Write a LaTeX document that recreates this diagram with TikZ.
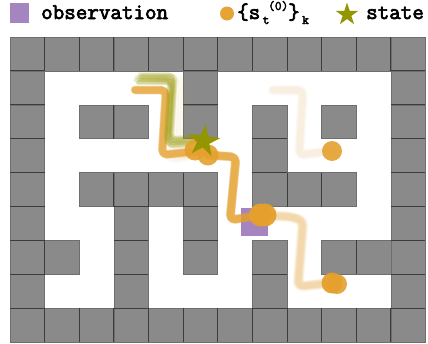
\documentclass[tikz,border=0pt]{standalone}
\usepackage{fontspec}
\newfontfamily\lgfont[FakeBold=3]{Latin Modern Mono}
\definecolor{wallc}{HTML}{8A8A8A}
\definecolor{wallb}{HTML}{3C3C3C}
\definecolor{purp}{HTML}{A585BF}
\definecolor{oran}{HTML}{E5A02D}
\definecolor{oliv}{HTML}{939600}
\tikzset{
  wall/.style={fill=wallc,draw=wallc!80!black,line width=.6pt},
  ptrail/.style={line width=#1,line cap=round,line join=round,rounded corners=5pt},
  legend/.style={font=\lgfont\fontsize{22.4}{23}\selectfont,inner sep=0pt,anchor=base west},
  small/.style={font=\lgfont\fontsize{13}{14}\selectfont,inner sep=0pt,anchor=base west}
}
\newcommand{\blurpath}[5]{% colour, opacity, width, offsets, path
  \foreach \dx/\dy in {#4}{
    \draw[ptrail=#3,draw=#1,opacity=#2,shift={(\dx pt,\dy pt)}] #5;
  }
}
\newcommand{\starat}[4]{% x,y,r,rot
  \fill[oliv] ({#1+#3*sin(#4)},{#2-#3*cos(#4)})
  \foreach \k in {1,...,9}{
    -- ({#1+(#3*(1-0.62*mod(\k,2)))*sin(#4+36*\k)},{#2-(#3*(1-0.62*mod(\k,2)))*cos(#4+36*\k)})
  } -- cycle;
}
\begin{document}
\begin{tikzpicture}[x=1pt,y=-1pt]
\useasboundingbox (0,0) rectangle (428,343);
\fill[white] (0,0) rectangle (428,343);
% maze
\def\cw{34.62}\def\ch{33.9}
\foreach \r/\cols in {0/{0,1,2,3,4,5,6,7,8,9,10,11},
  1/{0,5,11},
  2/{0,2,3,5,7,9,11},
  3/{0,7,11},
  4/{0,2,3,4,5,7,8,9,11},
  5/{0,3,5,11},
  6/{0,1,3,5,7,9,10,11},
  7/{0,3,7,11},
  8/{0,1,2,3,4,5,6,7,8,9,10,11}}{
  \foreach \c in \cols {
    \filldraw[wall] ({10+\c*\cw},{37+\r*\ch}) rectangle ++(\cw,\ch);
  }
}
% darker seams
\foreach \r/\a/\b in {1/0/1,1/5/6,1/11/12,2/0/1,2/11/12,3/0/1,3/11/12,4/0/1,4/11/12,5/0/1,5/11/12,6/0/1,6/11/12,7/0/1,7/11/12,8/0/1,8/3/4,8/7/8,8/11/12,
  7/3/4,7/7/8,6/3/4,6/5/6,5/3/4,5/5/6,4/7/8,3/7/8,2/5/6}{
  \draw[wallb,line width=.9pt] ({10+\a*\cw},{37+\r*\ch}) -- ({10+\b*\cw},{37+\r*\ch});
}
\foreach \c/\a/\b in {1/0/1,2/0/1,3/0/1,4/0/1,5/0/1,6/0/1,7/0/1,8/0/1,9/0/1,10/0/1,11/0/1,
  3/2/3,3/4/5,4/4/5,5/4/5,8/4/5,9/4/5,1/6/7,10/6/7,
  1/8/9,2/8/9,3/8/9,4/8/9,5/8/9,6/8/9,7/8/9,8/8/9,9/8/9,10/8/9,11/8/9}{
  \draw[wallb,line width=.8pt] ({10+\c*\cw},{37+\a*\ch}) -- ({10+\c*\cw},{37+\b*\ch});
}
% observation square in maze
\fill[purp] (241,208) rectangle (268,236);
% faint trails
\blurpath{oran}{.025}{8pt}{0/0,1/1,-1/0,1/-1,0/1,-1/-1}{(273,90) -- (303,90) -- (299,155) -- (332,151)}
\blurpath{oran}{.03}{7pt}{0/0,3/-1,6/1,9/0,12/2,15/3}{(150,80) -- (170,82) -- (167,160) -- (198,152)}
% orange trails
\blurpath{oran}{.08}{8pt}{0/0,1.5/0,-1.5/1,1/1.5,-1/-1,0/1}{(262,216) -- (290,217) -- (303,221) -- (298,287) -- (335,283)}
\blurpath{oran}{.33}{7.5pt}{0/0,.6/0,-.6/.6,0/-.6}{(135,90) -- (166,90) -- (162,155) -- (198,151)}
\blurpath{oran}{.36}{8pt}{0/0,.6/0,-.6/.6,0/-.6}{(208,155) -- (236,157) -- (230,220) -- (262,215)}
% olive trails
\blurpath{oliv}{.2}{3.5pt}{0/0,1/3,-1/-3,1.5/5,2/-1,-2/2,3/1,0/-4,4/4,-3/-1}{(138,79) -- (172,79) -- (168,143) -- (198,141)}
% circles
\fill[oran,opacity=.9] (195,150) circle (10.5);
\fill[oran,opacity=.9] (208,155) circle (10.5);
\fill[oran,opacity=.95] (260.5,215) circle (11.5);
\fill[oran,opacity=.95] (265,215) circle (11.5);
\fill[oran,opacity=.9] (337,284) circle (10);
\fill[oran,opacity=.95] (332,283) circle (10.5);
\fill[oran,opacity=.9] (332,151) circle (10);
\starat{203.5}{141}{17}{8}
% legend
\fill[purp] (10,3) rectangle (29,23);
\node[legend] (obs) at (41,19) {observation};
\fill[oran,opacity=.95] (227,13.5) circle (7);
\node[legend] (br) at (237,19) {\{s};
\node[small] (subt) at (262.5,24) {t};
\node[small] (sup) at (268,10) {(0)};
\node[legend] (brr) at (288,19) {\}};
\node[small] (subk) at (302,24) {k};
\starat{347}{14.5}{12}{0}
\node[legend] (st) at (366,19) {state};
\end{tikzpicture}
\end{document}
